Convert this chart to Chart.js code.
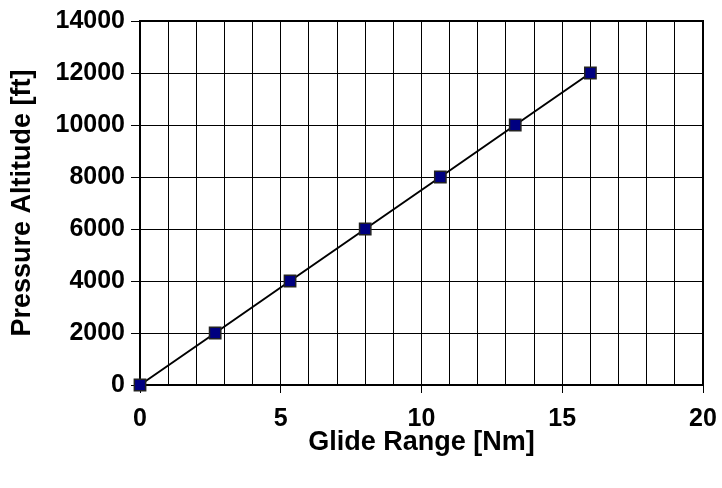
<!DOCTYPE html>
<html>
<head>
<meta charset="utf-8">
<script src="https://cdn.jsdelivr.net/npm/chart.js@4"></script>
<style>
  body { margin: 0; background: #fff; }
  #wrap { width: 722px; height: 488px; }
</style>
</head>
<body>
<div id="wrap"><canvas id="chart" width="722" height="488"></canvas></div>
<script>
// glide range vs pressure altitude
var glideRange = [0, 2.67, 5.33, 8, 10.67, 13.33, 16];
var altitude = [0, 2000, 4000, 6000, 8000, 10000, 12000];
var xTicks = [0, 5, 10, 15, 20];
var yTicks = [0, 2000, 4000, 6000, 8000, 10000, 12000, 14000];

var pts = [];
for (var i = 0; i < glideRange.length; i++) {
    pts.push({ x: glideRange[i], y: altitude[i] });
}

var font = { family: 'Arial, "Liberation Sans", sans-serif', size: 25, weight: 'bold' };
var titleFont = { family: 'Arial, "Liberation Sans", sans-serif', size: 27, weight: 'bold' };

new Chart(document.getElementById('chart').getContext('2d'), {
    type: 'scatter',
    data: {
        datasets: [{
            data: pts,
            showLine: true,
            clip: false,
            borderColor: '#000',
            borderWidth: 2,
            pointStyle: 'rect',
            pointRadius: 8,
            pointBackgroundColor: '#000080',
            pointBorderColor: '#222',
            pointBorderWidth: 1.5
        }]
    },
    options: {
        responsive: false,
        animation: false,
        layout: { padding: { top: 20, right: 19, left: 2, bottom: 20 } },
        plugins: { legend: { display: false }, tooltip: { enabled: false } },
        scales: {
            x: {
                type: 'linear',
                min: xTicks[0],
                max: xTicks[xTicks.length - 1],
                afterFit: function (s) {
                    s.height = 488 - 385 - 20;
                    s.paddingRight = 0;
                },
                ticks: {
                    stepSize: 1,
                    autoSkip: false,
                    maxRotation: 0,
                    color: '#000',
                    font: font,
                    padding: 11,
                    callback: function (v) { return v % 5 === 0 ? String(v) : ''; }
                },
                grid: {
                    color: '#000',
                    lineWidth: 1,
                    tickLength: 8,
                    tickColor: function (ctx) { return ctx.tick && ctx.tick.value % 5 === 0 ? '#000' : 'rgba(0,0,0,0)'; }
                },
                border: { color: '#000', width: 2 },
                title: { display: true, text: 'Glide Range [Nm]', color: '#000', font: titleFont, padding: { top: 4, bottom: 9 } }
            },
            y: {
                min: yTicks[0],
                max: yTicks[yTicks.length - 1],
                afterFit: function (s) { s.width = 140 - 2; },
                ticks: {
                    stepSize: 2000,
                    color: '#000',
                    font: font,
                    padding: 6,
                    callback: function (v) { return String(v); }
                },
                grid: { color: '#000', lineWidth: 1, tickLength: 9 },
                border: { color: '#000', width: 2 },
                title: { display: true, text: 'Pressure Altitude [ft]', color: '#000', font: titleFont, padding: { top: 4, bottom: 4 } }
            }
        }
    },
    plugins: [{
        id: 'topRightBorder',
        afterDraw: function (chart) {
            var a = chart.chartArea, c = chart.ctx;
            c.save();
            c.strokeStyle = '#000';
            c.lineWidth = 2;
            c.beginPath();
            c.moveTo(a.left, a.top);
            c.lineTo(a.right, a.top);
            c.lineTo(a.right, a.bottom);
            c.stroke();
            c.restore();
        }
    }]
});
</script>
</body>
</html>
